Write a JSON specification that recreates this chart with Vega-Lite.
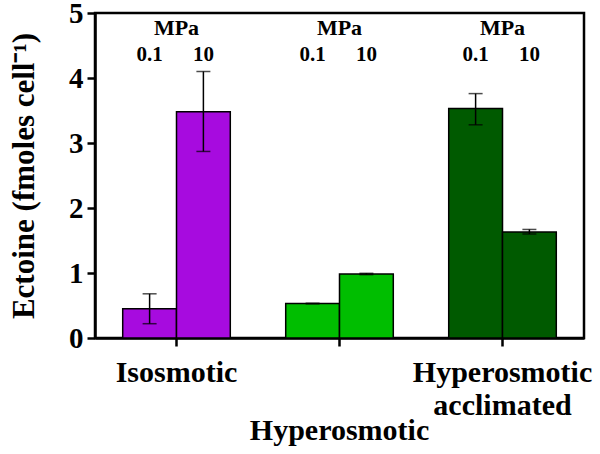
{
  "$schema": "https://vega.github.io/schema/vega-lite/v6.json",
  "width": 489,
  "height": 325,
  "autosize": {"type": "none"},
  "padding": {"left": 95, "top": 13, "right": 16, "bottom": 116},
  "background": "white",
  "config": {
    "view": {"stroke": "black", "strokeWidth": 2.5},
    "font": "Liberation Serif",
    "axis": {"domainColor": "black", "domainWidth": 2.5, "tickColor": "black", "tickWidth": 2.5, "labelColor": "black", "titleColor": "black", "labelFont": "Liberation Serif", "titleFont": "Liberation Serif", "labelFontWeight": "bold", "titleFontWeight": "bold", "grid": false}
  },
  "datasets": {
    "bars": [
      {"group": "Isosmotic", "pressure": "0.1", "value": 0.45, "lo": 0.22, "hi": 0.68},
      {"group": "Isosmotic", "pressure": "10", "value": 3.48, "lo": 2.87, "hi": 4.10},
      {"group": "Hyperosmotic", "pressure": "0.1", "value": 0.53, "lo": 0.525, "hi": 0.535},
      {"group": "Hyperosmotic", "pressure": "10", "value": 0.985, "lo": 0.975, "hi": 0.995},
      {"group": "Hyperosmotic acclimated", "pressure": "0.1", "value": 3.53, "lo": 3.28, "hi": 3.76},
      {"group": "Hyperosmotic acclimated", "pressure": "10", "value": 1.63, "lo": 1.60, "hi": 1.67}
    ],
    "groups": [
      {"group": "Isosmotic", "label": "MPa", "line1": "Isosmotic", "line2": ""},
      {"group": "Hyperosmotic", "label": "MPa", "line1": "", "line2": "Hyperosmotic"},
      {"group": "Hyperosmotic acclimated", "label": "MPa", "line1": "Hyperosmotic", "line2": "acclimated"}
    ]
  },
  "encoding": {
    "x": {
      "field": "group", "type": "nominal",
      "sort": ["Isosmotic", "Hyperosmotic", "Hyperosmotic acclimated"],
      "scale": {"domain": ["Isosmotic", "Hyperosmotic", "Hyperosmotic acclimated"], "paddingInner": 0.34, "paddingOuter": 0.17},
      "axis": {"title": null, "labels": false, "tickSize": 8}
    }
  },
  "layer": [
    {
      "data": {"name": "bars"},
      "mark": {"type": "bar", "stroke": "black", "strokeWidth": 1.5},
      "encoding": {
        "xOffset": {"field": "pressure", "type": "nominal", "scale": {"domain": ["0.1", "10"], "paddingInner": 0, "paddingOuter": 0}},
        "y": {
          "field": "value", "type": "quantitative",
          "scale": {"domain": [0, 5], "nice": false},
          "axis": {"title": "Ectoine (fmoles cell⁻¹)", "titleFontSize": 31, "titlePadding": 28, "values": [0, 1, 2, 3, 4, 5], "labelFontSize": 29, "tickSize": 8, "labelPadding": 4, "format": "d"}
        },
        "color": {
          "field": "group", "type": "nominal",
          "scale": {"domain": ["Isosmotic", "Hyperosmotic", "Hyperosmotic acclimated"], "range": ["#A70BDF", "#00BE00", "#005A00"]},
          "legend": null
        }
      }
    },
    {
      "data": {"name": "bars"},
      "mark": {"type": "rule", "color": "black", "strokeWidth": 1.5},
      "encoding": {
        "xOffset": {"field": "pressure", "type": "nominal"},
        "y": {"field": "lo", "type": "quantitative"},
        "y2": {"field": "hi"}
      }
    },
    {
      "data": {"name": "bars"},
      "mark": {"type": "tick", "color": "black", "thickness": 1.5, "size": 14},
      "encoding": {
        "xOffset": {"field": "pressure", "type": "nominal"},
        "y": {"field": "lo", "type": "quantitative"}
      }
    },
    {
      "data": {"name": "bars"},
      "mark": {"type": "tick", "color": "black", "thickness": 1.5, "size": 14},
      "encoding": {
        "xOffset": {"field": "pressure", "type": "nominal"},
        "y": {"field": "hi", "type": "quantitative"}
      }
    },
    {
      "data": {"name": "bars"},
      "mark": {"type": "text", "fontSize": 21, "fontWeight": "bold", "font": "Liberation Serif", "color": "black", "baseline": "middle"},
      "encoding": {
        "xOffset": {"field": "pressure", "type": "nominal"},
        "y": {"datum": 4.35},
        "text": {"field": "pressure"}
      }
    },
    {
      "data": {"name": "groups"},
      "mark": {"type": "text", "fontSize": 22, "fontWeight": "bold", "font": "Liberation Serif", "color": "black", "baseline": "middle"},
      "encoding": {
        "y": {"datum": 4.77},
        "text": {"field": "label"}
      }
    },
    {
      "data": {"name": "groups"},
      "mark": {"type": "text", "fontSize": 30, "fontWeight": "bold", "font": "Liberation Serif", "color": "black", "baseline": "alphabetic"},
      "encoding": {
        "y": {"datum": -0.68},
        "text": {"field": "line1"}
      }
    },
    {
      "data": {"name": "groups"},
      "transform": [{"filter": "datum.group == 'Hyperosmotic acclimated'"}],
      "mark": {"type": "text", "fontSize": 30, "fontWeight": "bold", "font": "Liberation Serif", "color": "black", "baseline": "alphabetic"},
      "encoding": {
        "y": {"datum": -1.19},
        "text": {"field": "line2"}
      }
    },
    {
      "data": {"name": "groups"},
      "transform": [{"filter": "datum.group == 'Hyperosmotic'"}],
      "mark": {"type": "text", "fontSize": 30, "fontWeight": "bold", "font": "Liberation Serif", "color": "black", "baseline": "alphabetic"},
      "encoding": {
        "y": {"datum": -1.57},
        "text": {"field": "line2"}
      }
    }
  ]
}
